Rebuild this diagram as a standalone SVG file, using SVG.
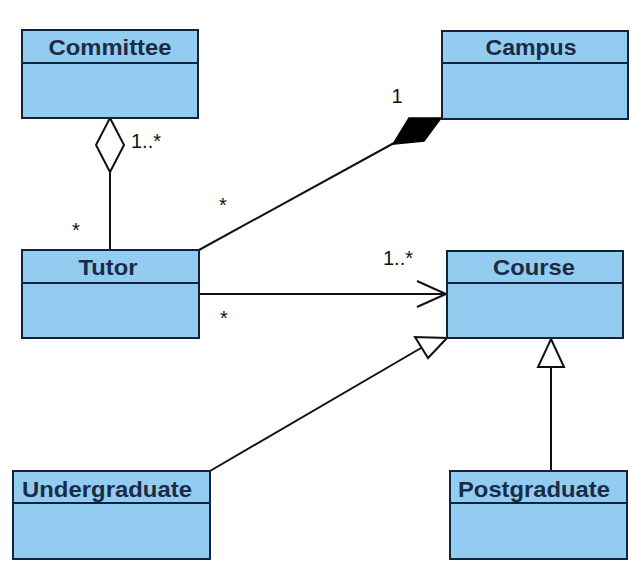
<svg xmlns="http://www.w3.org/2000/svg" width="637" height="579" viewBox="0 0 637 579">
<style>
.box{fill:#92CDF1;stroke:#13223a;stroke-width:2}
.div{stroke:#13223a;stroke-width:2}
.name{font-family:"Liberation Sans",Arial,sans-serif;font-weight:bold;font-size:22px;fill:#1b2b45;text-anchor:middle}
.lbl{font-family:"Liberation Sans",Arial,sans-serif;font-size:20px;fill:#111}
.ln{stroke:#111;stroke-width:2;fill:none}
</style>
<rect width="637" height="579" fill="#fff"/>
<g id="connectors">
  <line class="ln" x1="110" y1="250" x2="110" y2="172"/>
  <polygon points="110,118 124,145 110,172 96,145" fill="#fff" stroke="#111" stroke-width="2"/>
  <line class="ln" x1="199" y1="250" x2="394" y2="143"/>
  <polygon points="441,118 424,141 393,144 409,118" fill="#000" stroke="#000" stroke-width="1.5"/>
  <line class="ln" x1="199" y1="294" x2="446" y2="294"/>
  <polyline class="ln" points="417,281 446,294 417,307"/>
  <line class="ln" x1="210" y1="471" x2="421" y2="348"/>
  <polygon points="447,338 428,358 415,337" fill="#fff" stroke="#111" stroke-width="2"/>
  <line class="ln" x1="551" y1="471" x2="551" y2="367"/>
  <polygon points="551,339 564,367 538,367" fill="#fff" stroke="#111" stroke-width="2"/>
  <text class="lbl" x="131" y="148">1..*</text>
  <text class="lbl" x="76" y="237" text-anchor="middle">*</text>
  <text class="lbl" x="397" y="103" text-anchor="middle">1</text>
  <text class="lbl" x="223" y="212" text-anchor="middle">*</text>
  <text class="lbl" x="383" y="265">1..*</text>
  <text class="lbl" x="224" y="325" text-anchor="middle">*</text>
</g>
<g id="committee">
  <rect class="box" x="22" y="30" width="176" height="88"/>
  <line class="div" x1="22" y1="63" x2="198" y2="63"/>
  <text class="name" x="110" y="55" textLength="123" lengthAdjust="spacingAndGlyphs">Committee</text>
</g>
<g id="campus">
  <rect class="box" x="442" y="31" width="186" height="88"/>
  <line class="div" x1="442" y1="63" x2="628" y2="63"/>
  <text class="name" x="531" y="55" textLength="91" lengthAdjust="spacingAndGlyphs">Campus</text>
</g>
<g id="tutor">
  <rect class="box" x="22" y="250" width="177" height="88"/>
  <line class="div" x1="22" y1="283" x2="199" y2="283"/>
  <text class="name" x="108" y="275" textLength="59" lengthAdjust="spacingAndGlyphs">Tutor</text>
</g>
<g id="course">
  <rect class="box" x="447" y="251" width="176" height="87"/>
  <line class="div" x1="447" y1="283" x2="623" y2="283"/>
  <text class="name" x="534" y="275" textLength="82" lengthAdjust="spacingAndGlyphs">Course</text>
</g>
<g id="undergraduate">
  <rect class="box" x="13" y="471" width="197" height="88"/>
  <line class="div" x1="13" y1="503" x2="210" y2="503"/>
  <text class="name" x="107" y="497" textLength="170" lengthAdjust="spacingAndGlyphs">Undergraduate</text>
</g>
<g id="postgraduate">
  <rect class="box" x="450" y="471" width="177" height="88"/>
  <line class="div" x1="450" y1="503" x2="627" y2="503"/>
  <text class="name" x="534" y="497" textLength="152" lengthAdjust="spacingAndGlyphs">Postgraduate</text>
</g>
</svg>
